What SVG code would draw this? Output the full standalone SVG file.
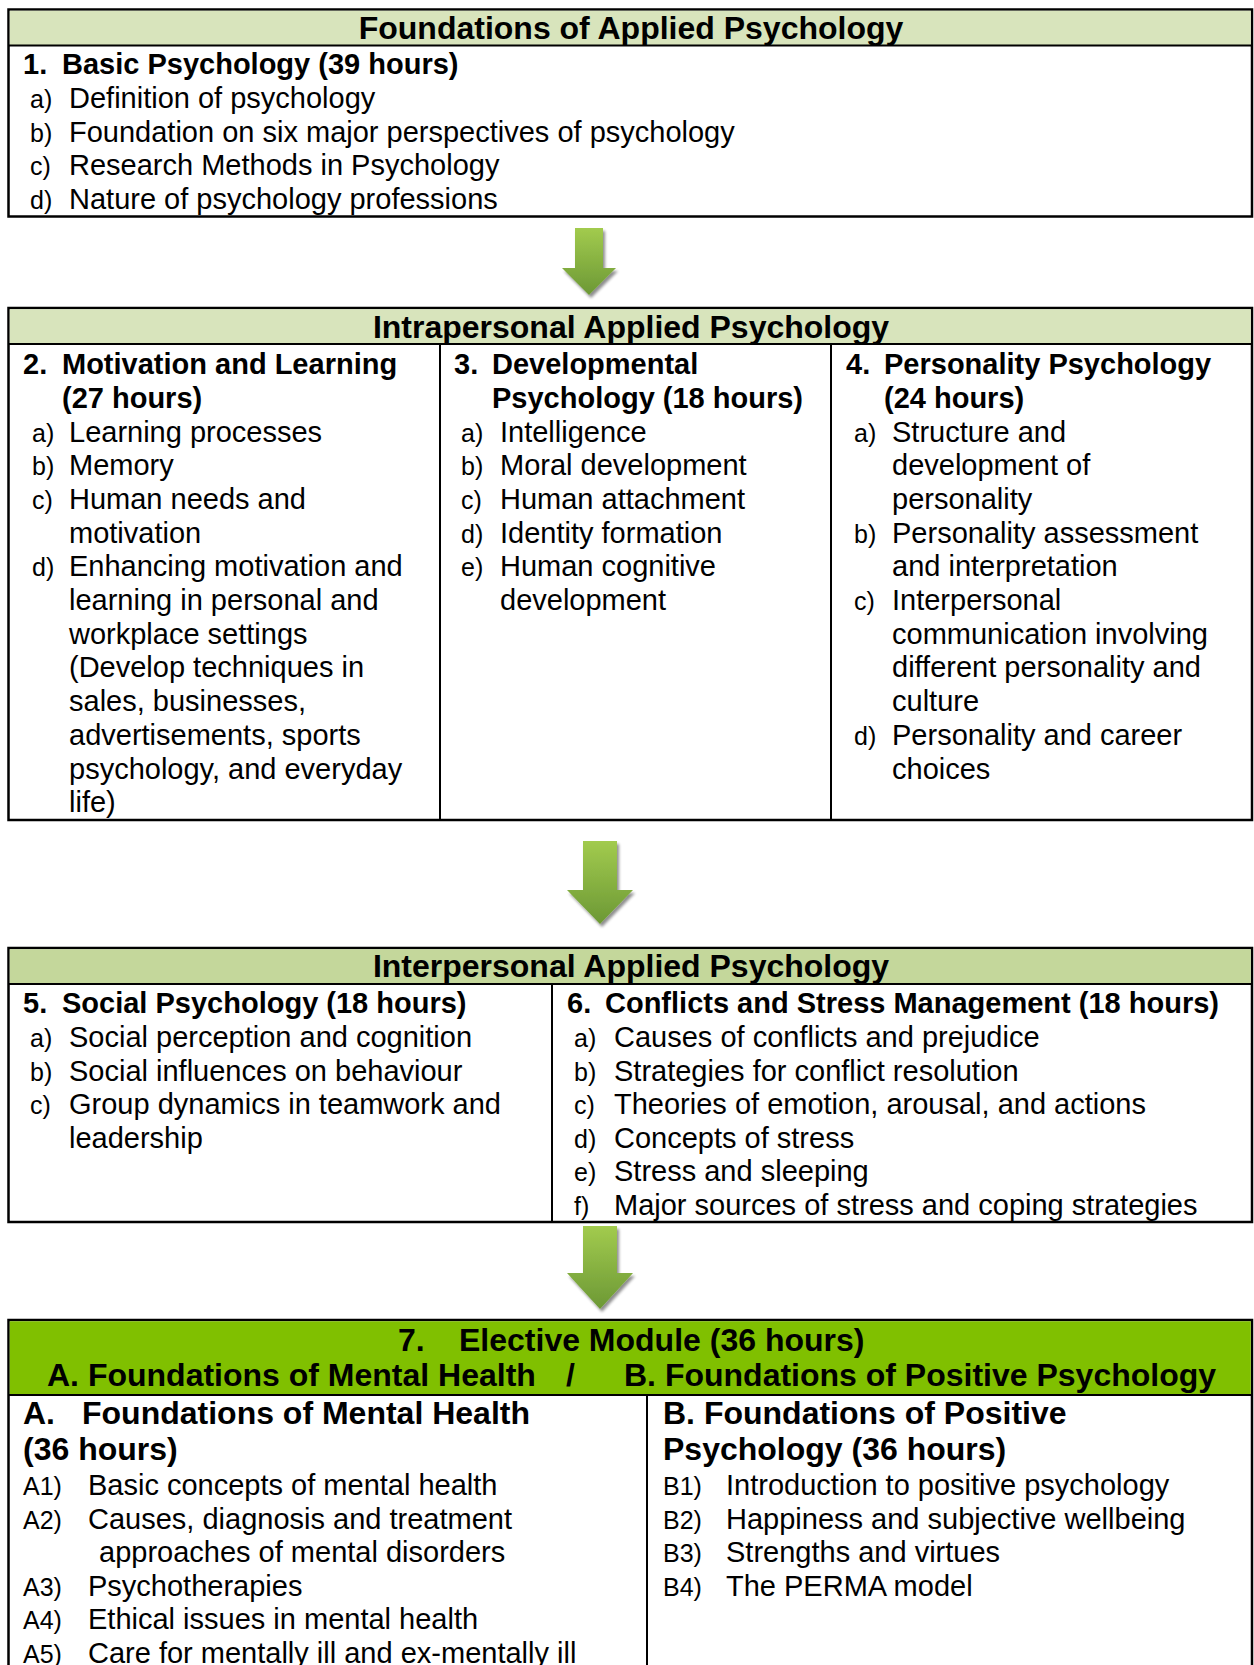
<svg xmlns="http://www.w3.org/2000/svg" width="1254" height="1665" viewBox="0 0 1254 1665">
<defs>
<linearGradient id="ag" x1="0" y1="0" x2="0" y2="1">
<stop offset="0" stop-color="#a2cb4e"/>
<stop offset="1" stop-color="#6c9835"/>
</linearGradient>
<filter id="sh" x="-30%" y="-30%" width="160%" height="160%">
<feGaussianBlur in="SourceAlpha" stdDeviation="1.5"/>
<feOffset dx="2" dy="3" result="o"/>
<feComponentTransfer><feFuncA type="linear" slope="0.45"/></feComponentTransfer>
<feMerge><feMergeNode/><feMergeNode in="SourceGraphic"/></feMerge>
</filter>
</defs>
<style>
text{font-family:"Liberation Sans",Arial,sans-serif;fill:#000}
.t{font-size:32px;font-weight:bold;text-anchor:middle}
.h{font-size:29px;font-weight:bold}
.hb{font-size:32px;font-weight:bold}
.b{font-size:29px}
.l{font-size:25px}
.box{fill:#fff;stroke:#000;stroke-width:2.5}
.div{stroke:#000;stroke-width:2}
.band1{fill:#d8e4bc}
.band2{fill:#c4d79b}
.band3{fill:#80c000}
.arrow{fill:url(#ag);filter:url(#sh)}
</style>
<rect width="1254" height="1665" fill="#fff"/>

<g id="foundations">
<rect class="box" x="8.5" y="9.5" width="1243.5" height="207"/>
<rect class="band1" x="9.75" y="10.75" width="1241" height="34.75"/>
<line class="div" x1="8.5" y1="45.5" x2="1252" y2="45.5"/>
<text class="t" x="631" y="39">Foundations of Applied Psychology</text>
<text class="h" x="23" y="74">1.</text>
<text class="h" x="62" y="74">Basic Psychology (39 hours)</text>
<text class="l" x="30" y="108">a)</text><text class="b" x="69" y="108">Definition of psychology</text>
<text class="l" x="30" y="141.5">b)</text><text class="b" x="69" y="141.5">Foundation on six major perspectives of psychology</text>
<text class="l" x="30" y="175">c)</text><text class="b" x="69" y="175">Research Methods in Psychology</text>
<text class="l" x="30" y="209">d)</text><text class="b" x="69" y="209">Nature of psychology professions</text>
</g>

<g id="intrapersonal">
<rect class="box" x="8.5" y="308" width="1243.5" height="512"/>
<rect class="band1" x="9.75" y="309.25" width="1241" height="34.75"/>
<line class="div" x1="8.5" y1="344" x2="1252" y2="344"/>
<line class="div" x1="440" y1="344" x2="440" y2="820"/>
<line class="div" x1="831" y1="344" x2="831" y2="820"/>
<text class="t" x="631" y="338">Intrapersonal Applied Psychology</text>
</g>

<g id="motivation">
<text class="h" x="23" y="374">2.</text>
<text class="h" x="62" y="374">Motivation and Learning</text>
<text class="h" x="62" y="408">(27 hours)</text>
<text class="l" x="32" y="441.5">a)</text><text class="b" x="69" y="441.5">Learning processes</text>
<text class="l" x="32" y="475.2">b)</text><text class="b" x="69" y="475.2">Memory</text>
<text class="l" x="32" y="508.9">c)</text><text class="b" x="69" y="508.9">Human needs and</text>
<text class="b" x="69" y="542.6">motivation</text>
<text class="l" x="32" y="576.3">d)</text><text class="b" x="69" y="576.3">Enhancing motivation and</text>
<text class="b" x="69" y="610">learning in personal and</text>
<text class="b" x="69" y="643.7">workplace settings</text>
<text class="b" x="69" y="677.4">(Develop techniques in</text>
<text class="b" x="69" y="711.1">sales, businesses,</text>
<text class="b" x="69" y="744.8">advertisements, sports</text>
<text class="b" x="69" y="778.5">psychology, and everyday</text>
<text class="b" x="69" y="812.2">life)</text>
</g>

<g id="developmental">
<text class="h" x="454" y="374">3.</text>
<text class="h" x="492" y="374">Developmental</text>
<text class="h" x="492" y="408">Psychology (18 hours)</text>
<text class="l" x="461" y="441.5">a)</text><text class="b" x="500" y="441.5">Intelligence</text>
<text class="l" x="461" y="475.2">b)</text><text class="b" x="500" y="475.2">Moral development</text>
<text class="l" x="461" y="508.9">c)</text><text class="b" x="500" y="508.9">Human attachment</text>
<text class="l" x="461" y="542.6">d)</text><text class="b" x="500" y="542.6">Identity formation</text>
<text class="l" x="461" y="576.3">e)</text><text class="b" x="500" y="576.3">Human cognitive</text>
<text class="b" x="500" y="610">development</text>
</g>

<g id="personality">
<text class="h" x="846" y="374">4.</text>
<text class="h" x="884" y="374">Personality Psychology</text>
<text class="h" x="884" y="408">(24 hours)</text>
<text class="l" x="854" y="441.5">a)</text><text class="b" x="892" y="441.5">Structure and</text>
<text class="b" x="892" y="475.2">development of</text>
<text class="b" x="892" y="508.9">personality</text>
<text class="l" x="854" y="542.6">b)</text><text class="b" x="892" y="542.6">Personality assessment</text>
<text class="b" x="892" y="576.3">and interpretation</text>
<text class="l" x="854" y="610">c)</text><text class="b" x="892" y="610">Interpersonal</text>
<text class="b" x="892" y="643.7">communication involving</text>
<text class="b" x="892" y="677.4">different personality and</text>
<text class="b" x="892" y="711.1">culture</text>
<text class="l" x="854" y="744.8">d)</text><text class="b" x="892" y="744.8">Personality and career</text>
<text class="b" x="892" y="778.5">choices</text>
</g>

<g id="interpersonal">
<rect class="box" x="8.5" y="948" width="1243.5" height="274"/>
<rect class="band2" x="9.75" y="949.25" width="1241" height="34.75"/>
<line class="div" x1="8.5" y1="984" x2="1252" y2="984"/>
<line class="div" x1="552" y1="984" x2="552" y2="1222"/>
<text class="t" x="631" y="977">Interpersonal Applied Psychology</text>
</g>

<g id="social">
<text class="h" x="23" y="1013">5.</text>
<text class="h" x="62" y="1013">Social Psychology (18 hours)</text>
<text class="l" x="30" y="1047">a)</text><text class="b" x="69" y="1047">Social perception and cognition</text>
<text class="l" x="30" y="1080.5">b)</text><text class="b" x="69" y="1080.5">Social influences on behaviour</text>
<text class="l" x="30" y="1114">c)</text><text class="b" x="69" y="1114">Group dynamics in teamwork and</text>
<text class="b" x="69" y="1147.5">leadership</text>
</g>

<g id="conflicts">
<text class="h" x="567" y="1013">6.</text>
<text class="h" x="605" y="1013">Conflicts and Stress Management (18 hours)</text>
<text class="l" x="574" y="1047">a)</text><text class="b" x="614" y="1047">Causes of conflicts and prejudice</text>
<text class="l" x="574" y="1080.5">b)</text><text class="b" x="614" y="1080.5">Strategies for conflict resolution</text>
<text class="l" x="574" y="1114">c)</text><text class="b" x="614" y="1114">Theories of emotion, arousal, and actions</text>
<text class="l" x="574" y="1147.5">d)</text><text class="b" x="614" y="1147.5">Concepts of stress</text>
<text class="l" x="574" y="1181">e)</text><text class="b" x="614" y="1181">Stress and sleeping</text>
<text class="l" x="574" y="1214.5">f)</text><text class="b" x="614" y="1214.5">Major sources of stress and coping strategies</text>
</g>

<g id="elective">
<rect class="box" x="8.5" y="1320" width="1243.5" height="360"/>
<rect class="band3" x="9.75" y="1321.25" width="1241" height="73.75"/>
<line class="div" x1="8.5" y1="1395" x2="1252" y2="1395"/>
<line class="div" x1="647" y1="1395" x2="647" y2="1665"/>
<text class="hb" x="398" y="1351">7.</text>
<text class="hb" x="459" y="1351">Elective Module (36 hours)</text>
<text class="hb" x="47" y="1386">A. Foundations of Mental Health</text>
<text class="hb" x="566" y="1386">/</text>
<text class="hb" x="624" y="1386">B. Foundations of Positive Psychology</text>
</g>

<g id="mental-health">
<text class="hb" x="23" y="1424">A.</text>
<text class="hb" x="82" y="1424">Foundations of Mental Health</text>
<text class="hb" x="23" y="1460">(36 hours)</text>
<text class="l" x="23" y="1495">A1)</text><text class="b" x="88" y="1495">Basic concepts of mental health</text>
<text class="l" x="23" y="1528.5">A2)</text><text class="b" x="88" y="1528.5">Causes, diagnosis and treatment</text>
<text class="b" x="99" y="1562">approaches of mental disorders</text>
<text class="l" x="23" y="1596">A3)</text><text class="b" x="88" y="1596">Psychotherapies</text>
<text class="l" x="23" y="1629">A4)</text><text class="b" x="88" y="1629">Ethical issues in mental health</text>
<text class="l" x="23" y="1663">A5)</text><text class="b" x="88" y="1663">Care for mentally ill and ex-mentally ill</text>
</g>

<g id="positive-psychology">
<text class="hb" x="663" y="1424">B. Foundations of Positive</text>
<text class="hb" x="663" y="1460">Psychology (36 hours)</text>
<text class="l" x="663" y="1495">B1)</text><text class="b" x="726" y="1495">Introduction to positive psychology</text>
<text class="l" x="663" y="1528.5">B2)</text><text class="b" x="726" y="1528.5">Happiness and subjective wellbeing</text>
<text class="l" x="663" y="1562">B3)</text><text class="b" x="726" y="1562">Strengths and virtues</text>
<text class="l" x="663" y="1596">B4)</text><text class="b" x="726" y="1596">The PERMA model</text>
</g>

<g id="connectors">
<polygon class="arrow" points="575,228 603,228 603,268 616,268 589,295 562,268 575,268"/>
<polygon class="arrow" points="583,841 617,841 617,890 633,890 600,924 567,890 583,890"/>
<polygon class="arrow" points="583,1226 617,1226 617,1273 633,1273 600,1309 567,1273 583,1273"/>
</g>
</svg>
